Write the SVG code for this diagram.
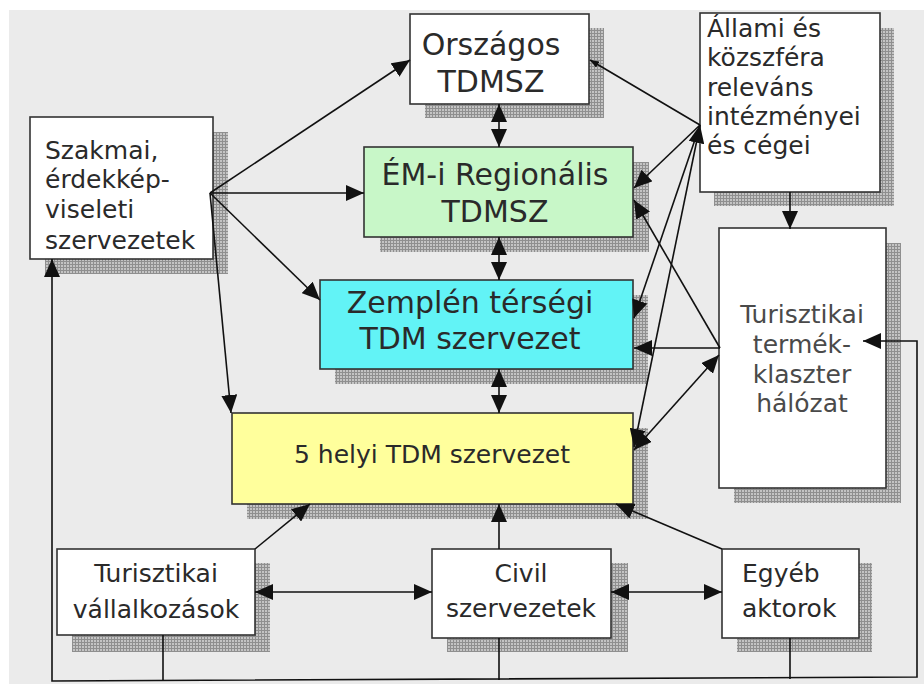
<svg xmlns="http://www.w3.org/2000/svg" width="924" height="684" viewBox="0 0 924 684">
<style>
.box{stroke:#333;stroke-width:1.6}
.sh{fill:url(#grid)}
.t{font-family:"DejaVu Sans","Verdana",sans-serif;fill:#2a2a2a}
.big{font-size:30px}
.med{font-size:25px}
.c{text-anchor:middle}
.ln{fill:none;stroke:#111;stroke-width:1.6}
</style>
<defs>
<pattern id="grid" width="3" height="3" patternUnits="userSpaceOnUse">
<rect width="3" height="3" fill="#c4c4c4"/>
<path d="M0,0.5 H3 M0.5,0 V3" stroke="#8f8f8f" stroke-width="1"/>
</pattern>
<marker id="ah" viewBox="0 0 18 16" refX="18" refY="8" markerWidth="18" markerHeight="16" markerUnits="userSpaceOnUse" orient="auto-start-reverse">
<path d="M0,0 L18,8 L0,16 z" fill="#111"/>
</marker>
<marker id="ahs" viewBox="0 0 9 7" refX="9" refY="3.5" markerWidth="9" markerHeight="7" markerUnits="userSpaceOnUse" orient="auto-start-reverse">
<path d="M0,0 L9,3.5 L0,7 z" fill="#111"/>
</marker>
</defs>
<rect x="0" y="0" width="924" height="684" fill="#ffffff"/>
<rect x="9" y="10" width="915" height="674" fill="#ebebeb"/>

<g id="orszagos">
<rect class="sh" x="425" y="28" width="179" height="90"/>
<rect class="box" x="410" y="14" width="179" height="90" fill="#ffffff"/>
<text class="t big c" x="491" y="55">Országos</text>
<text class="t big c" x="491" y="92">TDMSZ</text>
</g>

<g id="em-regionalis">
<rect class="sh" x="380" y="162" width="269" height="90"/>
<rect class="box" x="364" y="147" width="269" height="90" fill="#c8f7c8"/>
<text class="t big c" x="495" y="185">ÉM-i Regionális</text>
<text class="t big c" x="495" y="222">TDMSZ</text>
</g>

<g id="zemplen">
<rect class="sh" x="335" y="295" width="313" height="89"/>
<rect class="box" x="320" y="280" width="313" height="89" fill="#62f3f6"/>
<text class="t big c" x="470" y="313">Zemplén térségi</text>
<text class="t big c" x="470" y="349">TDM szervezet</text>
</g>

<g id="helyi">
<rect class="sh" x="247" y="428" width="401" height="91"/>
<rect class="box" x="232" y="413" width="401" height="91" fill="#ffff9c"/>
<text class="t med c" x="432" y="463">5 helyi TDM szervezet</text>
</g>

<g id="szakmai">
<rect class="sh" x="45" y="132" width="183" height="142"/>
<rect class="box" x="30" y="117" width="183" height="142" fill="#ffffff"/>
<text class="t med" x="45" y="159">Szakmai,</text>
<text class="t med" x="45" y="188">érdekkép-</text>
<text class="t med" x="45" y="218">viseleti</text>
<text class="t med" x="45" y="249">szervezetek</text>
</g>

<g id="allami">
<rect class="sh" x="714" y="28" width="180" height="178"/>
<rect class="box" x="700" y="13" width="180" height="179" fill="#ffffff"/>
<text class="t med" x="707" y="37">Állami és</text>
<text class="t med" x="707" y="66">közszféra</text>
<text class="t med" x="707" y="96">releváns</text>
<text class="t med" x="707" y="125">intézményei</text>
<text class="t med" x="707" y="154">és cégei</text>
</g>

<g id="termek-klaszter">
<rect class="sh" x="734" y="243" width="167" height="260"/>
<rect class="box" x="719" y="228" width="167" height="260" fill="#ffffff"/>
<text class="t med c" x="802" y="323" style="fill:#4a4a4a">Turisztikai</text>
<text class="t med c" x="802" y="353" style="fill:#4a4a4a">termék-</text>
<text class="t med c" x="802" y="383" style="fill:#4a4a4a">klaszter</text>
<text class="t med c" x="802" y="412" style="fill:#4a4a4a">hálózat</text>
</g>

<g id="vallalkozasok">
<rect class="sh" x="72" y="563" width="198" height="89"/>
<rect class="box" x="57" y="549" width="198" height="86" fill="#ffffff"/>
<text class="t med c" x="156" y="582">Turisztikai</text>
<text class="t med c" x="156" y="618">vállalkozások</text>
</g>

<g id="civil">
<rect class="sh" x="447" y="563" width="181" height="89"/>
<rect class="box" x="432" y="549" width="179" height="89" fill="#ffffff"/>
<text class="t med c" x="521" y="582">Civil</text>
<text class="t med c" x="521" y="617">szervezetek</text>
</g>

<g id="egyeb">
<rect class="sh" x="737" y="563" width="135" height="89"/>
<rect class="box" x="722" y="549" width="137" height="89" fill="#ffffff"/>
<text class="t med" x="742" y="582">Egyéb</text>
<text class="t med" x="742" y="617">aktorok</text>
</g>

<g id="connectors">
<line class="ln" x1="210" y1="193" x2="410" y2="60" marker-end="url(#ah)"/>
<line class="ln" x1="210" y1="193" x2="364" y2="193" marker-end="url(#ah)"/>
<line class="ln" x1="210" y1="193" x2="320" y2="300" marker-end="url(#ah)"/>
<line class="ln" x1="210" y1="193" x2="231" y2="413" marker-end="url(#ah)"/>
<line class="ln" x1="499" y1="104" x2="499" y2="147" marker-start="url(#ah)" marker-end="url(#ah)"/>
<line class="ln" x1="499" y1="237" x2="499" y2="280" marker-start="url(#ah)" marker-end="url(#ah)"/>
<line class="ln" x1="499" y1="369" x2="499" y2="413" marker-start="url(#ah)" marker-end="url(#ah)"/>
<line class="ln" x1="700" y1="125" x2="590" y2="60" marker-end="url(#ahs)"/>
<line class="ln" x1="700" y1="125" x2="634" y2="188" marker-end="url(#ah)"/>
<line class="ln" x1="700" y1="125" x2="634" y2="318" marker-end="url(#ah)"/>
<line class="ln" x1="700" y1="125" x2="634" y2="447" marker-start="url(#ah)" marker-end="url(#ah)"/>
<line class="ln" x1="720" y1="348" x2="634" y2="200" marker-end="url(#ah)"/>
<line class="ln" x1="720" y1="348" x2="634" y2="348" marker-end="url(#ah)"/>
<line class="ln" x1="634" y1="450" x2="719" y2="355" marker-start="url(#ah)" marker-end="url(#ah)"/>
<line class="ln" x1="790" y1="192" x2="790" y2="229" marker-end="url(#ah)"/>
<line class="ln" x1="255" y1="549" x2="310" y2="504" marker-end="url(#ah)"/>
<line class="ln" x1="499" y1="549" x2="499" y2="504" marker-end="url(#ah)"/>
<line class="ln" x1="722" y1="549" x2="616" y2="504" marker-end="url(#ah)"/>
<line class="ln" x1="255" y1="592" x2="432" y2="592" marker-start="url(#ah)" marker-end="url(#ah)"/>
<line class="ln" x1="611" y1="592" x2="722" y2="592" marker-start="url(#ah)" marker-end="url(#ah)"/>
<line class="ln" x1="163" y1="635" x2="163" y2="681"/>
<line class="ln" x1="499" y1="638" x2="499" y2="680"/>
<line class="ln" x1="790" y1="638" x2="790" y2="679"/>
<path class="ln" d="M863,341 L917,341 L917,677 L52,681 L52,259" marker-start="url(#ah)" marker-end="url(#ah)"/>
</g>
</svg>
